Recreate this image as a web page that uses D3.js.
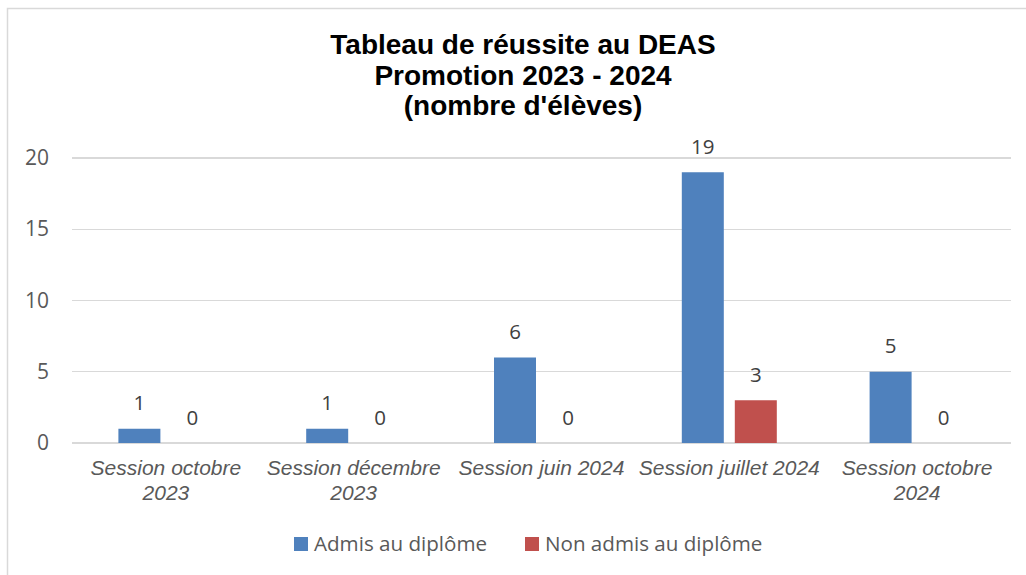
<!DOCTYPE html>
<head>
  <meta charset="utf-8">
  <style>
    body { margin: 0; background: #fff; }
    .axis text { font-family: "Open Sans", sans-serif; font-size: 21px; fill: #595959; }
    .grid line { stroke: #d9d9d9; stroke-width: 1.3; shape-rendering: crispEdges; }
    .xlabel { font-family: "Liberation Sans", Arial, sans-serif; font-style: italic; font-size: 21px; fill: #595959; }
    .val { font-family: "Open Sans", sans-serif; font-size: 20.5px; fill: #404040; }
    .legend text { font-family: "Open Sans", sans-serif; font-size: 20.6px; fill: #595959; }
    .title { font-family: "Liberation Sans", Arial, sans-serif; font-weight: bold; font-size: 28px; fill: #000; }
  </style>
  <script src="https://cdn.jsdelivr.net/npm/d3@7"></script>
</head>
<body>
  <script>

    const categories = ['Session octobre 2023', 'Session décembre 2023', 'Session juin 2024',
                        'Session juillet 2024', 'Session octobre 2024'];
    const series = ['Admis au diplôme', 'Non admis au diplôme'];
    const admis = [1, 1, 6, 19, 5];
    const nonAdmis = [0, 0, 0, 3, 0];
    const yTicks = [0, 5, 10, 15, 20];
    const titleLines = ['Tableau de réussite au DEAS', 'Promotion 2023 - 2024', "(nombre d'élèves)"];
    const colors = ['#4f81bd', '#c0504d'];

    const w = 1026,
          h = 575;

    const svg = d3.select('body').append('svg')
          .attr('width', w)
          .attr('height', h);

    // chart frame (runs past the window on right and bottom)
    svg.append('rect')
       .attr('x', 7.5).attr('y', 8.5)
       .attr('width', 1040).attr('height', 600)
       .attr('fill', '#fff')
       .attr('stroke', '#d9d9d9')
       .attr('stroke-width', 1.5);

    svg.append('text')
       .attr('class', 'title')
       .attr('text-anchor', 'middle')
       .selectAll('tspan')
       .data(titleLines)
       .enter()
       .append('tspan')
       .attr('x', 523)
       .attr('y', (d, i) => 54 + i * 30.5)
       .text(d => d);

    const xScale = d3.scaleBand()
                     .domain(categories)
                     .range([72, 1011]);

    const bw = xScale.bandwidth();
    const x1 = d3.scaleBand()
                 .domain(series)
                 .range([bw / 2 - 47.5, bw / 2 + 47.5])
                 .paddingInner(11 / 53);

    const yScale = d3.scaleLinear()
                     .domain([0, 20])
                     .range([443, 158]);

    // gridlines
    svg.append('g')
       .attr('class', 'grid')
       .selectAll('line')
       .data(yTicks)
       .enter()
       .append('line')
       .attr('x1', 72).attr('x2', 1011)
       .attr('y1', d => yScale(d)).attr('y2', d => yScale(d));

    const yAxis = d3.axisLeft(yScale).tickValues(yTicks).tickSize(0).tickPadding(0);
    svg.append('g')
       .attr('class', 'y axis')
       .attr('transform', 'translate(49, 0)')
       .call(yAxis)
       .call(g => g.select('.domain').remove());

    const rows = categories.map((c, i) => ({cat: c, vals: [admis[i], nonAdmis[i]]}));

    const groups = svg.append('g')
       .selectAll('g')
       .data(rows)
       .enter()
       .append('g')
       .attr('transform', d => `translate(${xScale(d.cat)}, 0)`);

    groups.selectAll('rect')
       .data(d => d.vals.map((v, j) => ({s: series[j], v: v, j: j})))
       .enter()
       .append('rect')
       .attr('x', d => x1(d.s))
       .attr('width', x1.bandwidth())
       .attr('y', d => yScale(d.v))
       .attr('height', d => yScale(0) - yScale(d.v))
       .attr('fill', d => colors[d.j]);

    groups.selectAll('.val')
       .data(d => d.vals.map((v, j) => ({s: series[j], v: v})))
       .enter()
       .append('text')
       .attr('class', 'val')
       .attr('text-anchor', 'middle')
       .attr('x', d => x1(d.s) + x1.bandwidth() / 2)
       .attr('y', d => yScale(d.v) - 18.5)
       .text(d => d.v);

    // category labels, wrapped to the band width
    const xl = svg.append('g');
    categories.forEach(c => {
      const t = xl.append('text')
                  .attr('class', 'xlabel')
                  .attr('text-anchor', 'middle');
      const cx = xScale(c) + bw / 2;
      const words = c.split(' ');
      let lines = [], cur = [];
      words.forEach(wd => {
        cur.push(wd);
        t.text(cur.join(' '));
        if (t.node().getComputedTextLength() > bw - 4 && cur.length > 1) {
          cur.pop();
          lines.push(cur.join(' '));
          cur = [wd];
        }
      });
      lines.push(cur.join(' '));
      t.text(null);
      lines.forEach((ln, i) => {
        t.append('tspan').attr('x', cx).attr('y', 475 + i * 24.5).text(ln);
      });
    });

    // legend
    const legendX = [294, 525];
    const legend = svg.append('g').attr('class', 'legend')
       .selectAll('g')
       .data(series)
       .enter()
       .append('g')
       .attr('transform', (d, i) => `translate(${legendX[i]}, 537)`);

    legend.append('rect')
       .attr('width', 14).attr('height', 14)
       .attr('fill', (d, i) => colors[i]);

    legend.append('text')
       .attr('x', 20).attr('y', 14)
       .text(d => d);

  </script>
</body>
